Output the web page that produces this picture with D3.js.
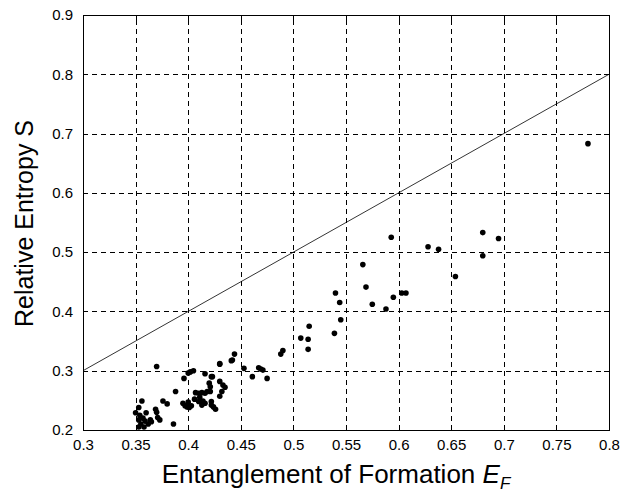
<!DOCTYPE html>
<html>
<head>
<meta charset="utf-8">
<script src="https://cdn.jsdelivr.net/npm/d3@7"></script>
<style>
  html, body { margin: 0; padding: 0; background: #fff; }
  svg { display: block; }
  text { font-family: "Liberation Sans", Arial, sans-serif; fill: #000; }
</style>
</head>
<body>
<svg id="chart" width="620" height="492"></svg>
<script>
// Entanglement of formation (E_F) of each sampled state
const entanglement = [
  0.353, 0.356, 0.354, 0.357, 0.359, 0.355, 0.353, 0.358, 0.362, 0.364,
  0.365, 0.360, 0.353, 0.350, 0.369, 0.370, 0.371, 0.373, 0.376, 0.380,
  0.386, 0.388, 0.370, 0.396, 0.402, 0.395, 0.397, 0.399, 0.401, 0.403,
  0.400, 0.407, 0.410, 0.413, 0.416, 0.418, 0.406, 0.411, 0.410, 0.414,
  0.416, 0.413, 0.422, 0.422, 0.424, 0.426, 0.420, 0.421, 0.421, 0.430,
  0.433, 0.435, 0.432, 0.430, 0.422, 0.416, 0.423, 0.400, 0.405, 0.430,
  0.441, 0.444, 0.442, 0.430, 0.453, 0.467, 0.469, 0.471, 0.461, 0.475,
  0.490, 0.488, 0.507, 0.514, 0.514, 0.515, 0.539, 0.545, 0.540, 0.544,
  0.566, 0.569, 0.575, 0.588, 0.595, 0.603, 0.607, 0.593, 0.628, 0.638,
  0.654, 0.680, 0.695, 0.680, 0.780
];
// Relative entropy (S) of the same states
const relEntropy = [
  0.238, 0.249, 0.225, 0.220, 0.215, 0.210, 0.205, 0.205, 0.210, 0.217,
  0.214, 0.229, 0.217, 0.229, 0.235, 0.230, 0.221, 0.217, 0.249, 0.244,
  0.210, 0.265, 0.307, 0.287, 0.298, 0.245, 0.241, 0.239, 0.238, 0.241,
  0.247, 0.263, 0.262, 0.263, 0.262, 0.265, 0.252, 0.255, 0.248, 0.249,
  0.245, 0.242, 0.248, 0.242, 0.239, 0.235, 0.279, 0.273, 0.265, 0.282,
  0.276, 0.272, 0.265, 0.257, 0.290, 0.295, 0.290, 0.296, 0.300, 0.311,
  0.317, 0.328, 0.318, 0.312, 0.304, 0.305, 0.303, 0.301, 0.290, 0.287,
  0.334, 0.328, 0.355, 0.353, 0.336, 0.375, 0.363, 0.386, 0.431, 0.415,
  0.479, 0.441, 0.412, 0.404, 0.424, 0.431, 0.431, 0.525, 0.509, 0.505,
  0.459, 0.533, 0.523, 0.494, 0.683
];
// Tick values for both axes
const xTicks = [0.3, 0.35, 0.4, 0.45, 0.5, 0.55, 0.6, 0.65, 0.7, 0.75, 0.8];
const yTicks = [0.2, 0.3, 0.4, 0.5, 0.6, 0.7, 0.8, 0.9];
// Reference line S = E_F
const diagonal = [0.3, 0.8];

const svg = d3.select("#chart");
const plot = { left: 83, right: 609, top: 15, bottom: 430 };

const x = d3.scaleLinear().domain([0.3, 0.8]).range([plot.left, plot.right]);
const y = d3.scaleLinear().domain([0.2, 0.9]).range([plot.bottom, plot.top]);

// Dashed grid
const grid = svg.append("g").attr("stroke", "#000").attr("stroke-width", 1)
  .attr("stroke-dasharray", "5,4").attr("shape-rendering", "crispEdges");
grid.selectAll("line.vx").data(xTicks.slice(1, -1)).join("line")
  .attr("x1", d => Math.round(x(d)) + 0.5).attr("x2", d => Math.round(x(d)) + 0.5)
  .attr("y1", plot.bottom).attr("y2", plot.top);
grid.selectAll("line.hy").data(yTicks.slice(1, -1)).join("line")
  .attr("y1", d => Math.round(y(d)) + 0.5).attr("y2", d => Math.round(y(d)) + 0.5)
  .attr("x1", plot.left).attr("x2", plot.right);

// Axes with inward ticks
const xAxis = d3.axisBottom(x).tickValues(xTicks).tickSizeInner(-5).tickSizeOuter(0)
  .tickPadding(9).tickFormat(d3.format("~g"));
const yAxis = d3.axisLeft(y).tickValues(yTicks).tickSizeInner(-5).tickSizeOuter(0)
  .tickPadding(10).tickFormat(d3.format("~g"));

const gx = svg.append("g").attr("transform", `translate(0,${plot.bottom})`).call(xAxis);
const gy = svg.append("g").attr("transform", `translate(${plot.left},0)`).call(yAxis);
[gx, gy].forEach(g => {
  g.select(".domain").remove();
  g.selectAll(".tick line").attr("stroke", "#000").attr("shape-rendering", "crispEdges");
  g.selectAll(".tick text").attr("font-size", 15)
    .attr("font-family", "'Liberation Sans', Arial, sans-serif").attr("fill", "#222");
});

// Mirrored ticks on top and right edges
svg.append("g").attr("transform", `translate(0,${plot.top})`)
  .call(d3.axisTop(x).tickValues(xTicks).tickSizeInner(-5).tickSizeOuter(0).tickFormat(""))
  .call(g => g.select(".domain").remove())
  .selectAll("line").attr("shape-rendering", "crispEdges");
svg.append("g").attr("transform", `translate(${plot.right},0)`)
  .call(d3.axisRight(y).tickValues(yTicks).tickSizeInner(-5).tickSizeOuter(0).tickFormat(""))
  .call(g => g.select(".domain").remove())
  .selectAll("line").attr("shape-rendering", "crispEdges");

// Axes box
svg.append("rect")
  .attr("x", plot.left + 0.5).attr("y", plot.top + 0.5)
  .attr("width", plot.right - plot.left).attr("height", plot.bottom - plot.top)
  .attr("fill", "none").attr("stroke", "#000").attr("stroke-width", 1.2)
  .attr("shape-rendering", "crispEdges");

// S = E_F line
svg.append("line")
  .attr("x1", x(diagonal[0])).attr("y1", y(diagonal[0]))
  .attr("x2", x(diagonal[1])).attr("y2", y(diagonal[1]))
  .attr("stroke", "#000").attr("stroke-width", 0.8);

// Sampled states
svg.append("g").selectAll("circle")
  .data(entanglement.map((e, i) => [e, relEntropy[i]]))
  .join("circle")
  .attr("cx", d => x(d[0])).attr("cy", d => y(d[1]))
  .attr("r", 2.8).attr("fill", "#000");

// Axis titles
const xl = svg.append("text")
  .attr("x", (plot.left + plot.right) / 2 - 10).attr("y", 483)
  .attr("text-anchor", "middle").attr("font-size", 26);
xl.append("tspan").text("Entanglement of Formation ");
xl.append("tspan").attr("font-style", "italic").text("E");
xl.append("tspan").attr("font-style", "italic").attr("font-size", 17).attr("dy", 6).text("F");

svg.append("text")
  .attr("transform", `translate(33,${(plot.top + plot.bottom) / 2 + 1}) rotate(-90)`)
  .attr("text-anchor", "middle").attr("font-size", 25)
  .text("Relative Entropy S");
</script>
</body>
</html>
